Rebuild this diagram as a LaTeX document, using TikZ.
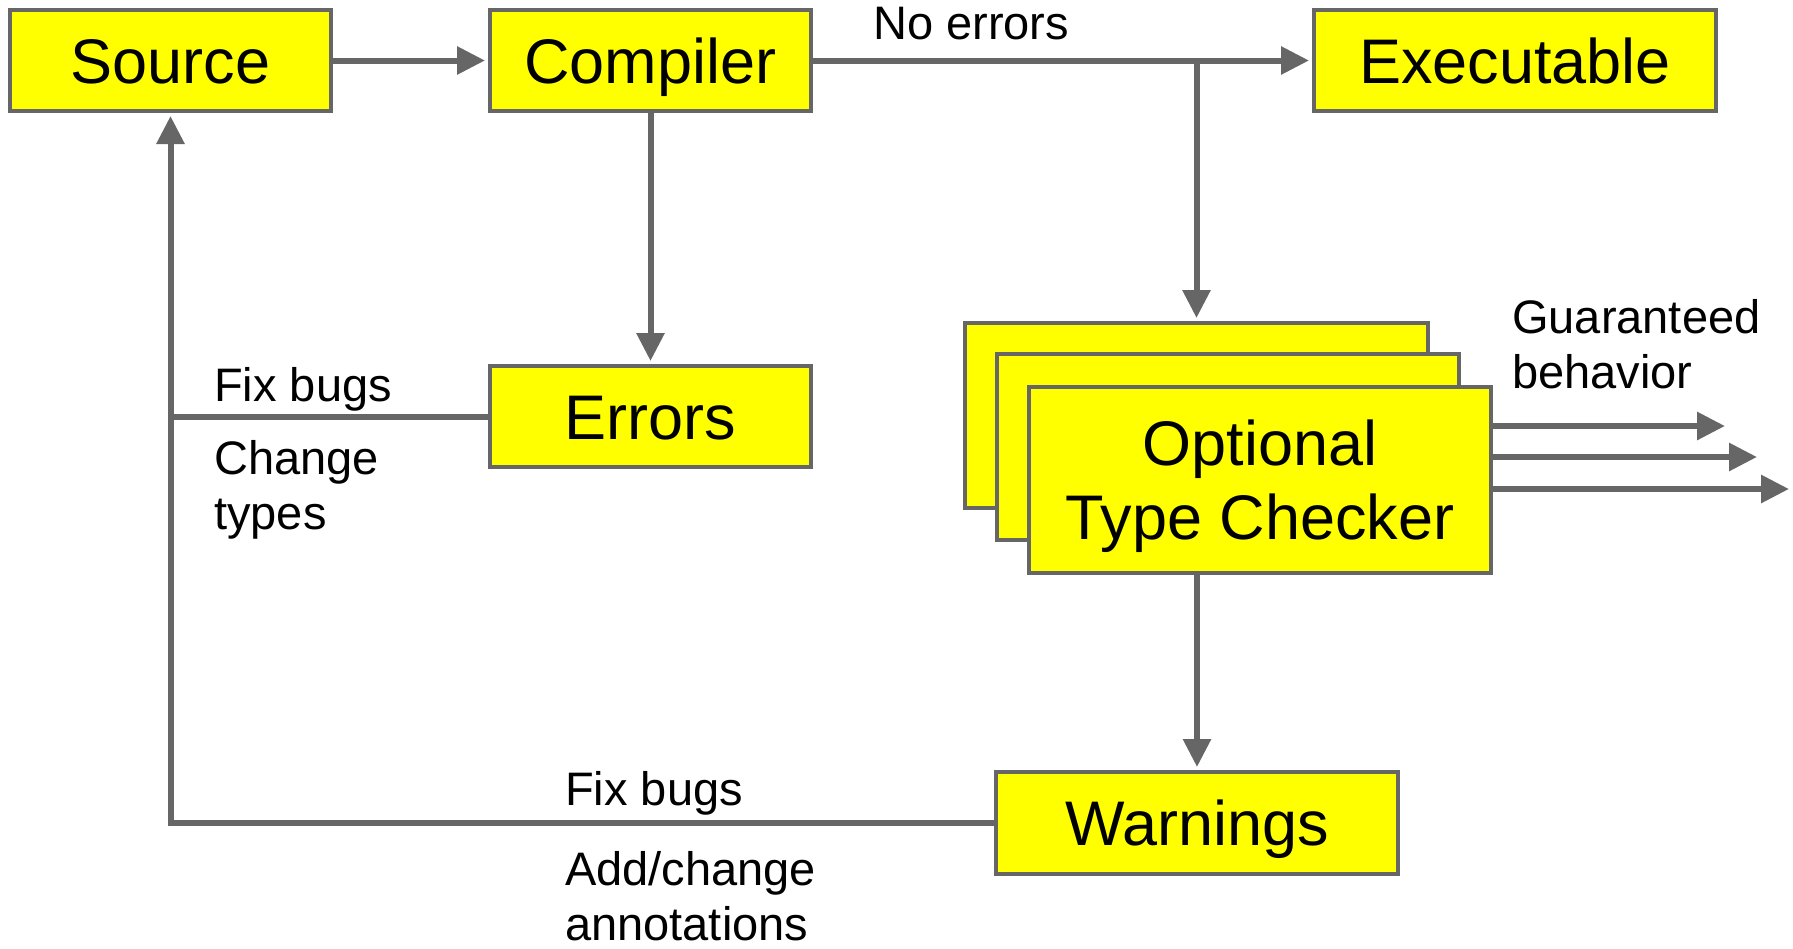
\documentclass[tikz,border=0pt]{standalone}
\usepackage{fontspec}
\setmainfont{Liberation Sans}
\usetikzlibrary{arrows.meta}
\definecolor{linegray}{HTML}{666666}
\definecolor{boxyellow}{HTML}{FFFF00}
\newcommand\boxfont{\fontsize{63}{74}\selectfont}
\newcommand\lblfont{\fontsize{47}{55}\selectfont}
\begin{document}
\begin{tikzpicture}[x=1pt,y=-1pt,
  box/.style={draw=linegray, line width=4pt, fill=boxyellow, inner sep=0pt, outer sep=0pt,
    font=\boxfont, text height=45pt, text depth=0pt},
  conn/.style={draw=linegray, line width=6pt},
  arr/.style={conn, -{Triangle[length=28pt,width=27pt]}, shorten >=5pt},
  lbl/.style={font=\lblfont, inner sep=0pt, anchor=base west, align=left}
]
\useasboundingbox (0,0) rectangle (1793,948);

\node[box, minimum width=321pt, minimum height=101pt] (src) at (170.5,60.5) {Source};
\node[box, minimum width=321pt, minimum height=101pt] (comp) at (650.5,60.5) {Compiler};
\node[box, minimum width=402pt, minimum height=101pt] (exec) at (1515,60.5) {Executable};
\node[box, minimum width=321pt, minimum height=101pt] (err) at (650.5,416.5) {Errors};

\node[box, minimum width=463pt, minimum height=185pt] (back) at (1196.5,415.5) {};
\node[box, minimum width=462pt, minimum height=186pt] (mid) at (1228,447) {};
\node[box, minimum width=462pt, minimum height=186pt, align=center, text height=119pt, text depth=0pt] (front) at (1260,480) {Optional\\Type Checker};

\node[box, minimum width=402pt, minimum height=102pt] (warn) at (1197,823) {Warnings};

% connectors
\draw[arr] (src) -- (comp);
\draw[arr] (comp) -- (exec);
\coordinate (br) at (back.north |- comp.east);
\draw[arr] (br) -- (back.north);
\draw[arr] (comp) -- (err);
\draw[arr] (warn.north |- front.south) -- (warn.north);

\coordinate (j1) at (src.south |- err.west);
\coordinate (j2) at (src.south |- warn.west);
\draw[conn] (err.west) -- (j1);
\draw[arr, line join=miter] (warn.west) -- (j2) -- (src.south);

\coordinate (g1) at (1725,426);
\coordinate (g2) at (1757,457);
\coordinate (g3) at (1789,489);
\draw[arr, shorten >=0pt] (front.east |- g1) -- (g1);
\draw[arr, shorten >=0pt] (front.east |- g2) -- (g2);
\draw[arr, shorten >=0pt] (front.east |- g3) -- (g3);

% labels (multi-line labels anchored at the baseline of their last line)
\node[lbl] (noerr) at (873,39) {No errors};
\node[lbl] (guar) at (1512,388) {Guaranteed\\behavior};
\node[lbl] (fix1) at (214,401) {Fix bugs};
\node[lbl] (chg) at (214,529) {Change\\types};
\node[lbl] (fix2) at (565,805) {Fix bugs};
\node[lbl] (add) at (565,940) {Add/change\\annotations};
\end{tikzpicture}
\end{document}
